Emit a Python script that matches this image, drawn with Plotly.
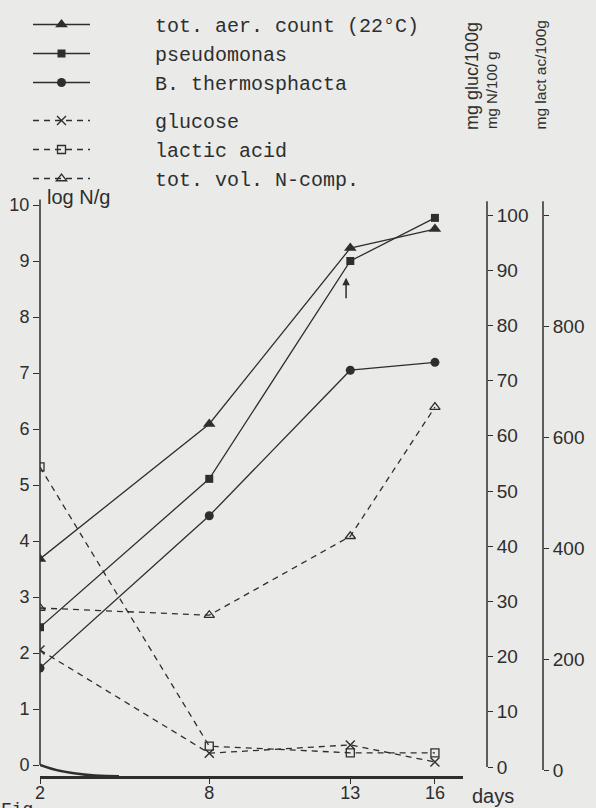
import plotly.graph_objects as go

# ---- data ----
days = [2, 8, 13, 16]
tot_aer_count = [3.68, 6.09, 9.23, 9.57]        # log N/g
pseudomonas = [2.46, 5.11, 9.00, 9.77]          # log N/g
b_thermosphacta = [1.73, 4.45, 7.05, 7.19]      # log N/g
glucose = [21.2, 2.5, 4.0, 0.9]                 # mg gluc/100 g
lactic_acid = [546, 43, 31, 31]                 # mg lact ac/100 g
tot_vol_n = [28.8, 27.5, 41.8, 65.2]            # mg N/100 g

left_ticks = list(range(0, 11))
gluc_ticks = list(range(0, 101, 10))
lact_ticks = [0, 200, 400, 600, 800, 1000]
lact_ticktext = ["0", "200", "400", "600", "800", ""]
x_ticks = [2, 8, 13, 16]

INK = "#2e2e2e"
BG = "#eaeae8"
NUM_FONT = dict(family="Liberation Sans", size=18, color=INK)
LEG_FONT = dict(family="Liberation Mono", size=20, color=INK)
PAD = "\u00a0" * 5

W, H = 596, 808
ML, MR, MT, MB = 40, 0, 100, 32
PW = W - ML - MR
PH = H - MT - MB


def px_x(p):
    return (p - ML) / PW


def px_y(p):
    return (H - MB - p) / PH


fig = go.Figure()

solid_line = dict(color=INK, width=1.3)
dash_line = dict(color=INK, width=1.3, dash="6px,5px")

fig.add_trace(go.Scatter(x=days, y=tot_aer_count, mode="lines+markers", name=PAD + "tot. aer. count (22°C)",
                         line=solid_line, marker=dict(symbol="triangle-up", size=11, color=INK),
                         legend="legend", yaxis="y"))
fig.add_trace(go.Scatter(x=days, y=pseudomonas, mode="lines+markers", name=PAD + "pseudomonas",
                         line=solid_line, marker=dict(symbol="square", size=8, color=INK),
                         legend="legend", yaxis="y"))
fig.add_trace(go.Scatter(x=days, y=b_thermosphacta, mode="lines+markers", name=PAD + "B. thermosphacta",
                         line=solid_line, marker=dict(symbol="circle", size=9, color=INK),
                         legend="legend", yaxis="y"))
fig.add_trace(go.Scatter(x=days, y=glucose, mode="lines+markers", name=PAD + "glucose",
                         line=dash_line, marker=dict(symbol="x-thin", size=9, line=dict(color=INK, width=1.4)),
                         legend="legend2", yaxis="y2"))
fig.add_trace(go.Scatter(x=days, y=lactic_acid, mode="lines+markers", name=PAD + "lactic acid",
                         line=dash_line, marker=dict(symbol="square-open", size=8, color=INK, line=dict(width=1.3)),
                         legend="legend2", yaxis="y3"))
fig.add_trace(go.Scatter(x=days, y=tot_vol_n, mode="lines+markers", name=PAD + "tot. vol. N-comp.",
                         line=dash_line, marker=dict(symbol="triangle-up-open", size=9, color=INK, line=dict(width=1.3)),
                         legend="legend2", yaxis="y2"))

# axis ranges chosen so that the scanned scales align
y_rng = [-11 / 56.0, (765 - MT) / 56.0]
y2_rng = [-9 / 5.52, (767 - MT) / 5.52]
y3_rng = [-6 / 0.555, (770 - MT) / 0.555]
x_rng = [2, 2 + (463 - ML) / 28.21]

leg_common = dict(xanchor="left", yanchor="top", font=LEG_FONT, bgcolor="rgba(0,0,0,0)",
                  itemwidth=57, traceorder="normal")

fig.update_layout(
    width=W, height=H,
    margin=dict(l=ML, r=MR, t=MT, b=MB),
    paper_bgcolor=BG, plot_bgcolor=BG,
    showlegend=True,
    legend=dict(x=px_x(28), y=px_y(5), **leg_common),
    legend2=dict(x=px_x(28), y=px_y(101), **leg_common),
    xaxis=dict(domain=[0, px_x(463)], range=x_rng, tickvals=x_ticks,
               showgrid=False, zeroline=False, showline=True, linecolor=INK, linewidth=2.5,
               ticks="outside", ticklen=5, tickcolor=INK, tickfont=NUM_FONT, ticklabelstandoff=-6),
    yaxis=dict(range=y_rng, tickvals=left_ticks, showgrid=False, zeroline=False, showline=False,
               ticks="outside", ticklen=6, tickcolor=INK, tickfont=NUM_FONT),
    yaxis2=dict(range=y2_rng, tickvals=gluc_ticks, overlaying="y", side="right", anchor="free",
                position=px_x(487), showgrid=False, zeroline=False, showline=False,
                ticks="outside", ticklen=5, tickcolor=INK, tickfont=dict(NUM_FONT, size=19)),
    yaxis3=dict(range=y3_rng, tickvals=lact_ticks, ticktext=lact_ticktext, overlaying="y", side="right",
                anchor="free", position=px_x(543), showgrid=False, zeroline=False, showline=False,
                ticks="outside", ticklen=5, tickcolor=INK, tickfont=dict(NUM_FONT, size=19)),
)

# axis lines (vertical scales as drawn in the original)
fig.add_shape(type="line", xref="paper", yref="y", x0=0, x1=0, y0=0, y1=10.1, line=dict(color=INK, width=1.5))
fig.add_shape(type="line", xref="paper", yref="y2", x0=px_x(487), x1=px_x(487), y0=0, y1=102.5,
              line=dict(color=INK, width=1.5))
fig.add_shape(type="line", xref="paper", yref="y3", x0=px_x(543), x1=px_x(543), y0=0, y1=1025,
              line=dict(color=INK, width=1.5))
# curved start of the time axis
fig.add_shape(type="path", xref="x", yref="y", path="M 2,0 Q 3,-0.2 4.8,-0.2", line=dict(color=INK, width=2.5))

ann = [
    dict(text="log N/g", x=px_x(45), y=px_y(197), xanchor="left", yanchor="middle",
         font=dict(family="Liberation Sans", size=20, color=INK)),
    dict(text="mg gluc/100g", x=px_x(472), y=px_y(132), xanchor="center", yanchor="bottom", textangle=-90,
         font=dict(family="Liberation Sans", size=18, color=INK)),
    dict(text="mg N/100 g", x=px_x(492), y=px_y(131), xanchor="center", yanchor="bottom", textangle=-90,
         font=dict(family="Liberation Sans", size=15, color=INK)),
    dict(text="mg lact ac/100g", x=px_x(540), y=px_y(132), xanchor="center", yanchor="bottom", textangle=-90,
         font=dict(family="Liberation Sans", size=15.5, color=INK)),
    dict(text="days", x=px_x(470), y=px_y(796), xanchor="left", yanchor="middle",
         font=dict(family="Liberation Sans", size=20, color=INK)),
    dict(text="Fig", x=px_x(-1), y=px_y(798), xanchor="left", yanchor="top",
         font=dict(family="Liberation Mono", size=18, color=INK)),
]
for a in ann:
    fig.add_annotation(xref="paper", yref="paper", showarrow=False, **a)

fig.add_annotation(x=12.85, y=8.70, xref="x", yref="y", text="", showarrow=True, ax=0, ay=22,
                   arrowhead=2, arrowsize=1, arrowwidth=1.5, arrowcolor=INK)

fig.write_html("out.html")
